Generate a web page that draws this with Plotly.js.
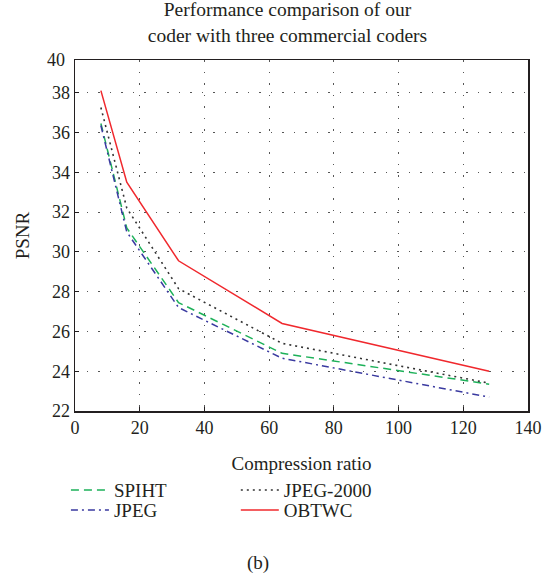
<!DOCTYPE html>
<html>
<head>
<meta charset="utf-8">
<script src="https://cdn.plot.ly/plotly-3.0.1.min.js"></script>
<style>html,body{margin:0;padding:0;background:#fff;}#chart{width:547px;height:581px;}</style>
</head>
<body>
<div id="chart"></div>
<script>
var compressionRatio = [8, 16, 32, 64, 128];
var spiht    = [36.45, 31.2, 27.45, 24.9, 23.35];
var jpeg2000 = [37.25, 32.2, 28.15, 25.4, 23.4];
var jpeg     = [36.35, 31.0, 27.2, 24.65, 22.7];
var obtwc    = [38.1, 33.5, 29.55, 26.4, 24.0];
var yTicks = [22, 24, 26, 28, 30, 32, 34, 36, 38];
var xTicks = [0, 20, 40, 60, 80, 100, 120, 140];

var FONT = '"Liberation Serif", "Times New Roman", Times, serif';
var TXT = '#231f20';

var traces = [
  {x: compressionRatio, y: spiht, name: 'SPIHT', mode: 'lines', legend: 'legend',
   line: {color: '#1db159', width: 1.5, dash: '8px,5px'}},
  {x: compressionRatio, y: jpeg, name: 'JPEG', mode: 'lines', legend: 'legend2',
   line: {color: '#3a3aa0', width: 1.5, dash: '7px,4px,2px,4px'}},
  {x: compressionRatio, y: jpeg2000, name: 'JPEG-2000', mode: 'lines', legend: 'legend3',
   line: {color: '#333333', width: 1.6, dash: '2px,4px'}},
  {x: compressionRatio, y: obtwc, name: 'OBTWC', mode: 'lines', legend: 'legend4',
   line: {color: '#f0282d', width: 1.5}}
];

var legendCommon = {orientation: 'v', yanchor: 'top', xanchor: 'left', tracegroupgap: 0,
  itemwidth: 38, bgcolor: 'rgba(0,0,0,0)', borderwidth: 0,
  font: {family: FONT, size: 19, color: TXT}};
var row1 = -0.1715, row2 = -0.2285, col1 = -0.02, col2 = 0.355;

var layout = {
  width: 547, height: 581,
  margin: {l: 75, r: 19, t: 60, b: 170},
  paper_bgcolor: '#fff', plot_bgcolor: '#fff',
  font: {family: FONT, size: 18, color: TXT},
  title: {text: 'Performance comparison of our<br>coder with three commercial coders',
          font: {family: FONT, size: 19.5, color: TXT},
          x: 0.5256, xref: 'container', xanchor: 'center',
          y: 0.972, yref: 'container', yanchor: 'top'},
  xaxis: {range: [0, 140], tickvals: xTicks, ticks: 'inside', ticklen: 4, tickcolor: TXT,
          showline: true, linecolor: TXT, linewidth: 1.5, mirror: true,
          showgrid: true, gridcolor: '#555', griddash: '1.5px,10px', gridwidth: 1,
          zeroline: false, tickfont: {family: FONT, size: 18, color: TXT},
          title: {text: 'Compression ratio', font: {family: FONT, size: 19, color: TXT}, standoff: 19}},
  yaxis: {range: [22, 39.64], tickvals: yTicks, ticks: 'inside', ticklen: 4, tickcolor: TXT,
          showline: true, linecolor: TXT, linewidth: 1.5, mirror: true,
          showgrid: true, gridcolor: '#555', griddash: '1.5px,10px', gridwidth: 1,
          zeroline: false, tickfont: {family: FONT, size: 18, color: TXT},
          title: {text: 'PSNR', font: {family: FONT, size: 19, color: TXT}, standoff: 17}},
  showlegend: true,
  legend: Object.assign({}, legendCommon, {x: col1, y: row1}),
  legend2: Object.assign({}, legendCommon, {x: col1, y: row2}),
  legend3: Object.assign({}, legendCommon, {x: col2, y: row1}),
  legend4: Object.assign({}, legendCommon, {x: col2, y: row2}),
  annotations: [
    {text: '40', xref: 'paper', yref: 'paper', x: 0, y: 1, xanchor: 'right', yanchor: 'middle',
     xshift: -8, showarrow: false, font: {family: FONT, size: 18, color: TXT}},
    {text: '(b)', xref: 'paper', yref: 'paper', x: (258 - 75.3) / 453, y: -(563 - 411.3) / 351,
     xanchor: 'center', yanchor: 'middle', showarrow: false, font: {family: FONT, size: 19, color: TXT}}
  ]
};

Plotly.newPlot('chart', traces, layout, {staticPlot: true, displayModeBar: false});
</script>
</body>
</html>
